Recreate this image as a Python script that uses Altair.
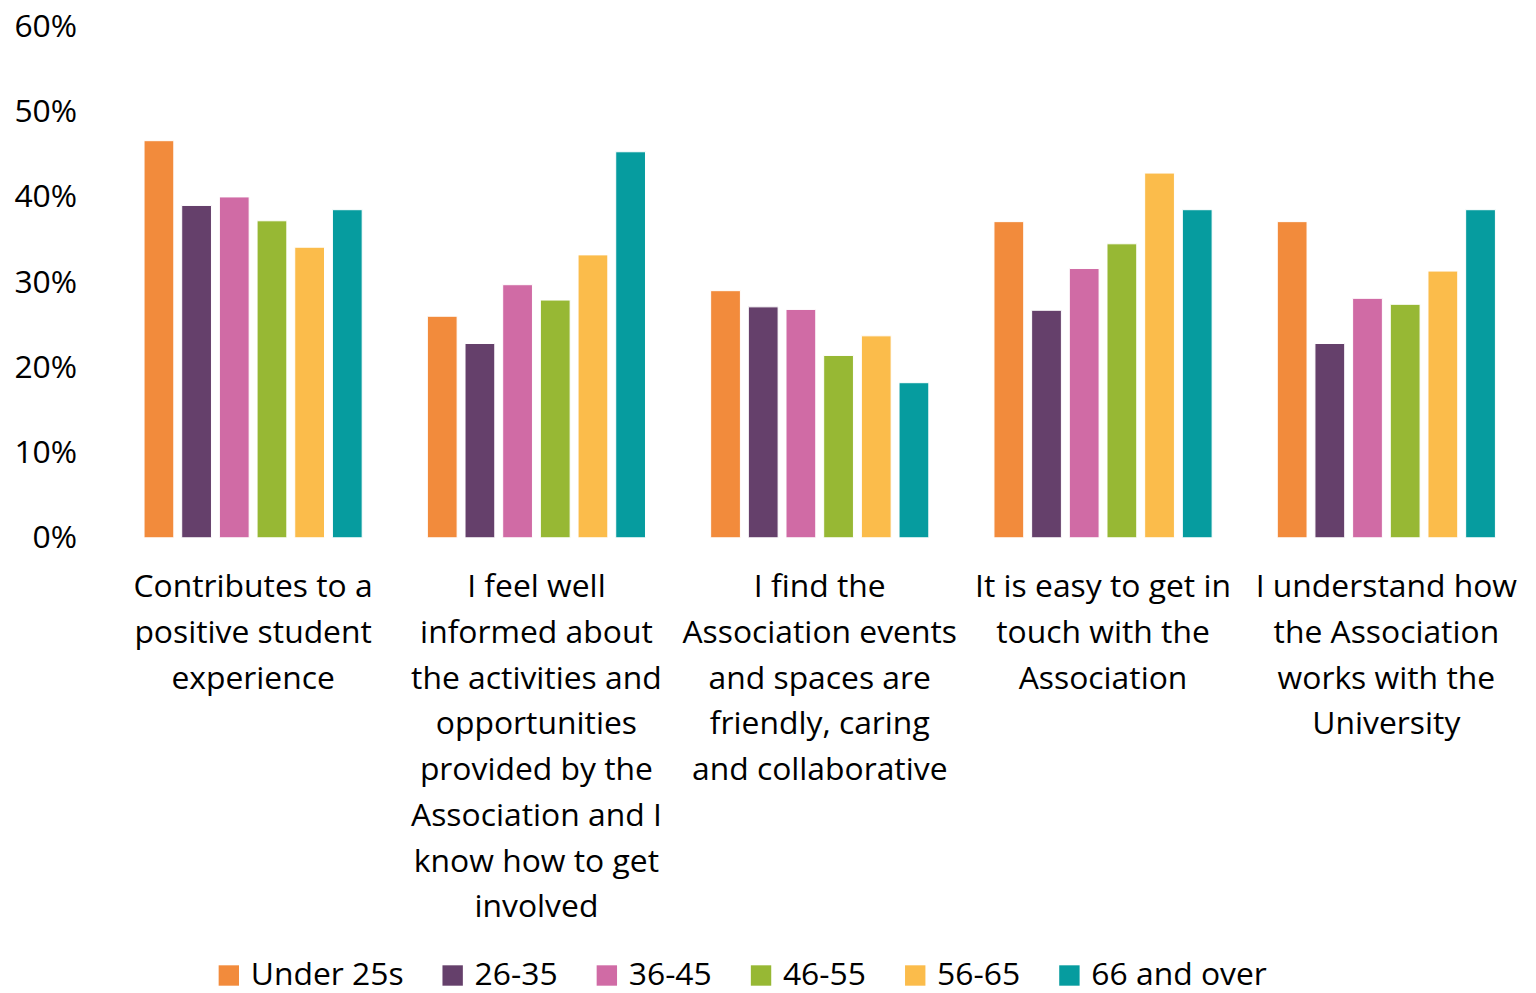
import altair as alt
import pandas as pd

categories = [
    "Contributes to a positive student experience",
    "I feel well informed about the activities and opportunities provided by the Association and I know how to get involved",
    "I find the Association events and spaces are friendly, caring and collaborative",
    "It is easy to get in touch with the Association",
    "I understand how the Association works with the University",
]
category_lines = [
    ["Contributes to a", "positive student", "experience"],
    ["I feel well", "informed about", "the activities and", "opportunities", "provided by the", "Association and I", "know how to get", "involved"],
    ["I find the", "Association events", "and spaces are", "friendly, caring", "and collaborative"],
    ["It is easy to get in", "touch with the", "Association"],
    ["I understand how", "the Association", "works with the", "University"],
]
age_groups = ["Under 25s", "26-35", "36-45", "46-55", "56-65", "66 and over"]
colors = ["#F28B3C", "#65406B", "#D06BA5", "#97B834", "#FBBC4B", "#069C9F"]

under25 = [0.466, 0.260, 0.290, 0.371, 0.371]
a26_35 = [0.390, 0.228, 0.271, 0.267, 0.228]
a36_45 = [0.400, 0.297, 0.268, 0.316, 0.281]
a46_55 = [0.372, 0.279, 0.214, 0.345, 0.274]
a56_65 = [0.341, 0.332, 0.237, 0.428, 0.313]
a66plus = [0.385, 0.453, 0.182, 0.385, 0.385]
series = [under25, a26_35, a36_45, a46_55, a56_65, a66plus]

rows = []
for g, vals in zip(age_groups, series):
    for c, v in zip(categories, vals):
        rows.append({"category": c, "age": g, "value": v})
df = pd.DataFrame(rows)

def js(s):
    return "'" + s.replace("'", "\\'") + "'"

label_expr = ""
for c, lines in zip(categories, category_lines):
    label_expr += f"datum.label == {js(c)} ? [{', '.join(js(l) for l in lines)}] : "
label_expr += "datum.label"

FONT = "Open Sans"
FS = 32

chart = alt.Chart(df).mark_bar(stroke="white", strokeWidth=1).encode(
    x=alt.X("category:N", sort=categories, title=None,
            scale=alt.Scale(paddingInner=0.23, paddingOuter=0.115),
            axis=alt.Axis(labelAngle=0, labelExpr=label_expr, labelFontSize=FS,
                          labelFont=FONT, labelColor="black", labelLineHeight=46,
                          labelPadding=34, ticks=False, domain=False, labelLimit=400,
                          labelBaseline="top")),
    xOffset=alt.XOffset("age:N", sort=age_groups, scale=alt.Scale(paddingInner=0.21)),
    y=alt.Y("value:Q", title=None,
            scale=alt.Scale(domain=[0, 0.6]),
            axis=alt.Axis(format=".0%", values=[0, 0.1, 0.2, 0.3, 0.4, 0.5, 0.6],
                          labelFontSize=FS, labelFont=FONT, labelColor="black",
                          labelPadding=35, ticks=False, domain=False, grid=False)),
    color=alt.Color("age:N", sort=age_groups,
                    scale=alt.Scale(domain=age_groups, range=colors),
                    legend=alt.Legend(orient="none", direction="horizontal", title=None,
                                      legendX=102, legendY=938, padding=0,
                                      labelFontSize=FS, labelFont=FONT, labelColor="black",
                                      labelLimit=400,
                                      symbolType="square", symbolSize=420, symbolStrokeWidth=0,
                                      columnPadding=33, labelOffset=6)),
).properties(
    width=1424, height=514, padding={"left": 5, "top": 0, "right": 0, "bottom": 0}
).configure_view(stroke=None)

chart.save("out.html", embed_options={"renderer": "svg", "actions": False})
